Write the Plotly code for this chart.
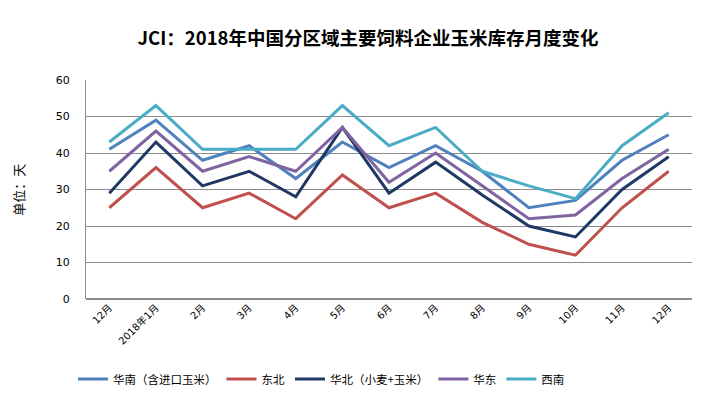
import plotly.graph_objects as go

months = ["12月", "2018年1月", "2月", "3月", "4月", "5月", "6月", "7月", "8月", "9月", "10月", "11月", "12月"]
x_idx = list(range(len(months)))

huanan = [41, 49, 38, 42, 33, 43, 36, 42, 35, 25, 27, 38, 45]
dongbei = [25, 36, 25, 29, 22, 34, 25, 29, 21, 15, 12, 25, 35]
huabei = [29, 43, 31, 35, 28, 47, 29, 37.5, 28.5, 20, 17, 30, 39]
huadong = [35, 46, 35, 39, 35, 47, 32, 40, 31, 22, 23, 33, 41]
xinan = [43, 53, 41, 41, 41, 53, 42, 47, 35, 31, 27.5, 42, 51]

series = [
    ("华南（含进口玉米）", huanan, "#4F81BD"),
    ("东北", dongbei, "#C0504D"),
    ("华北（小麦+玉米）", huabei, "#1F3864"),
    ("华东", huadong, "#8064A2"),
    ("西南", xinan, "#4BACC6"),
]

cjk = "Noto Sans CJK SC, Microsoft YaHei, sans-serif"
tickfam = "DejaVu Sans, Noto Sans CJK SC, sans-serif"

fig = go.Figure()
for name, vals, color in series:
    fig.add_trace(go.Scatter(
        x=x_idx, y=vals, name=name, mode="lines",
        line=dict(color=color, width=3),
    ))

# page body has an 8px margin, so the figure is 695x391 placed at (8, 8)
fig.update_layout(
    width=695, height=391,
    margin=dict(l=78, r=11, t=72, b=100),
    paper_bgcolor="white", plot_bgcolor="white",
    font=dict(family=cjk, size=11, color="#000"),
    title=dict(
        text="<b>JCI：2018年中国分区域主要饲料企业玉米库存月度变化</b>",
        x=0.518, xanchor="center", y=0.923, yanchor="middle",
        font=dict(size=18.5, color="#000", family=cjk),
    ),
    showlegend=True,
    legend=dict(
        orientation="h", xref="container", x=0.0935, xanchor="left",
        yref="container", y=0.051, yanchor="middle",
        font=dict(size=11.5, family=cjk), tracegroupgap=0,
    ),
    xaxis=dict(
        tickmode="array", tickvals=x_idx, ticktext=months,
        range=[-0.5, len(months) - 0.5],
        tickangle=-45, showgrid=False, showline=False, zeroline=False,
        ticks="", tickfont=dict(size=10, family=tickfam), automargin=False,
    ),
    yaxis=dict(
        range=[0, 60], dtick=10, showgrid=True, gridcolor="#8c8c8c", gridwidth=1,
        showline=True, linecolor="#8c8c8c", linewidth=1, zeroline=True,
        zerolinecolor="#8c8c8c", ticks="", tickfont=dict(size=11, family=tickfam),
        automargin=False, ticklabelstandoff=13,
    ),
    annotations=[dict(
        text="单位：天", xref="paper", yref="paper", x=-0.112, y=0.5,
        xanchor="center", yanchor="middle", textangle=-90, showarrow=False,
        font=dict(size=13, family=cjk, color="#000"),
    )],
)

fig.write_html("out.html")
